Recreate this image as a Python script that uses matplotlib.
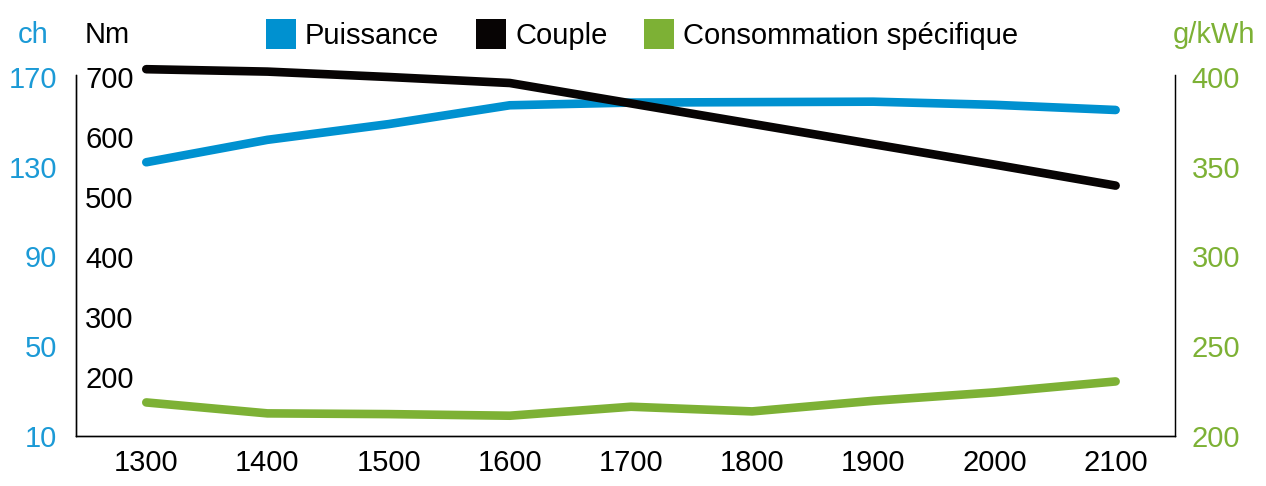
import matplotlib
matplotlib.use("Agg")
import matplotlib.pyplot as plt
from matplotlib.lines import Line2D

plt.rcParams['font.family'] = ['Liberation Sans', 'DejaVu Sans']
FS = 21

# ---- data ----
rpm = [1300, 1400, 1500, 1600, 1700, 1800, 1900, 2000, 2100]
puissance_ch = [132, 142, 149, 157.4, 158.6, 158.8, 159, 157.6, 155.3]
couple_nm = [713, 709, 700, 690, 656, 622, 588, 554, 519]
conso_gkwh = [218.7, 212.6, 212.2, 211.3, 216.3, 213.7, 219.6, 224.3, 230.4]

ch_ticks = [10, 50, 90, 130, 170]
nm_ticks = [200, 300, 400, 500, 600, 700]
g_ticks = [200, 250, 300, 350, 400]

series_names = ['Puissance', 'Couple', 'Consommation spécifique']

BLUE = '#0091D0'
BLUE_TXT = '#1B9AD6'
BLACK = '#070404'
GREEN = '#7DB135'
GREEN_TXT = '#7DB135'

W, H = 1266, 486
fig = plt.figure(figsize=(W / 100, H / 100), dpi=100)
L, R, T, B = 76, 1175, 75, 436
ax = fig.add_axes([L / W, 1 - B / H, (R - L) / W, (B - T) / H])
ax_nm = ax.twinx()
ax_g = ax.twinx()

LW = 6.2
line_kw = dict(lw=LW, solid_capstyle='round', solid_joinstyle='round', clip_on=False)

# ch axis (blue, left outer)
ax.set_xlim(1242, 2149)
ax.set_ylim(10 + (437 - 436) / 2.25, 170 + (77 - 75) / 2.25)
ax.set_yticks(ch_ticks)
ax.tick_params(axis='y', length=0, pad=13.5, labelsize=FS, labelcolor=BLUE_TXT)
ax.set_xticks(rpm)
ax.tick_params(axis='x', length=0, pad=9, labelsize=FS, labelcolor='black')
ax.plot(rpm, puissance_ch, color=BLUE, **line_kw)

# Nm axis (black, labels inside)
ax_nm.set_ylim(100 + (437 - 436) / 0.6, 700 + (77 - 75) / 0.6)
ax_nm.yaxis.set_ticks_position('left')
ax_nm.set_yticks(nm_ticks)
ax_nm.tick_params(axis='y', length=0, pad=-6.5, labelsize=FS, labelcolor='black',
                  labelleft=True, labelright=False)
for lab in ax_nm.get_yticklabels():
    lab.set_horizontalalignment('left')
ax_nm.plot(rpm, couple_nm, color=BLACK, **line_kw)

# g/kWh axis (green, right)
ax_g.set_ylim(200 + (437 - 436) / 1.8, 400 + (77 - 75) / 1.8)
ax_g.set_yticks(g_ticks)
ax_g.tick_params(axis='y', length=0, pad=12, labelsize=FS, labelcolor=GREEN_TXT)
ax_g.plot(rpm, conso_gkwh, color=GREEN, **line_kw)

for a in (ax, ax_nm, ax_g):
    a.spines['top'].set_visible(False)
    for s in ('left', 'right', 'bottom'):
        a.spines[s].set_linewidth(0.9)
        a.spines[s].set_color('black')
    a.patch.set_visible(False)
ax_nm.spines['right'].set_visible(False)

# axis unit titles
fig.text(33 / W, 1 - 35 / H, 'ch', color=BLUE_TXT, fontsize=FS, ha='center', va='center')
fig.text(85 / W, 1 - 35 / H, 'Nm', color='black', fontsize=FS, ha='left', va='center')
fig.text(1255 / W, 1 - 35 / H, 'g/kWh', color=GREEN_TXT, fontsize=FS, ha='right', va='center')

# legend
handles = [Line2D([], [], marker='s', ls='', markersize=21, color=c, markeredgewidth=0)
           for c in (BLUE, BLACK, GREEN)]
fig.legend(handles, series_names, loc='center', bbox_to_anchor=(642 / W, 1 - 36 / H),
           ncol=3, frameon=False, fontsize=FS, handlelength=1.05, handletextpad=0.3,
           columnspacing=1.25, borderpad=0, borderaxespad=0)

fig.savefig('out.png', dpi=100)
